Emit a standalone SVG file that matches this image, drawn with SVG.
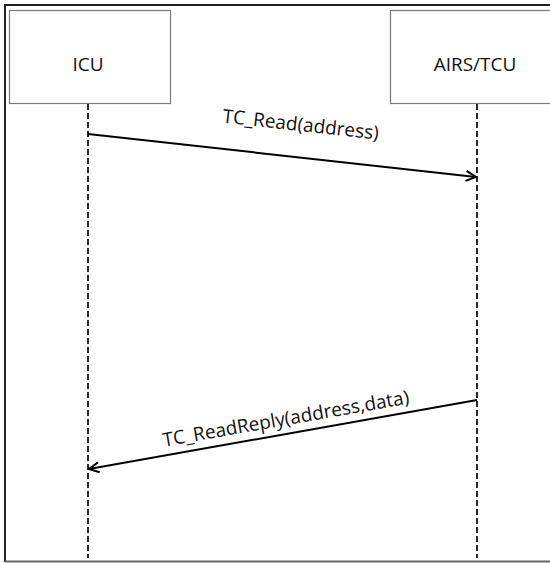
<svg xmlns="http://www.w3.org/2000/svg" width="550" height="563" viewBox="0 0 550 563">
  <style>
    .frame { fill: none; stroke: #222; stroke-width: 2; }
    .obj { fill: #fff; stroke: #7a7a7a; stroke-width: 1.2; }
    .life { stroke: #111; stroke-width: 1.8; stroke-dasharray: 6 3; fill: none; }
    .msg { stroke: #000; stroke-width: 2; fill: none; marker-end: url(#arrow); }
    text { font-family: "Open Sans", "Liberation Sans", sans-serif; font-size: 19px; fill: #111; }
  </style>
  <defs>
    <marker id="arrow" viewBox="0 0 12 12" refX="11" refY="6" markerWidth="12" markerHeight="12" markerUnits="userSpaceOnUse" orient="auto">
      <path d="M1,1 L11,6 L1,11" fill="none" stroke="#000" stroke-width="2"/>
    </marker>
  </defs>
  <rect width="550" height="563" fill="#fff"/>
  <!-- outer frame -->
  <path d="M5,562 L5,5 L550,5" class="frame"/>
  <line x1="5" y1="561.5" x2="550" y2="561.5" stroke="#666" stroke-width="2"/>

  <g id="icu">
    <rect class="obj" x="9.5" y="10.5" width="161" height="93"/>
    <text x="88" y="71" text-anchor="middle">ICU</text>
    <line class="life" x1="88" y1="104" x2="88" y2="558"/>
  </g>
  <g id="airs-tcu">
    <rect class="obj" x="390.5" y="10.5" width="170" height="93"/>
    <text x="475" y="71" text-anchor="middle">AIRS/TCU</text>
    <line class="life" x1="477" y1="104" x2="477" y2="558"/>
  </g>

  <g id="connectors">
    <line class="msg" x1="88" y1="134" x2="476" y2="177"/>
    <text transform="translate(300,131) rotate(6.3)" text-anchor="middle">TC_Read(address)</text>
    <line class="msg" x1="477" y1="400" x2="89" y2="469"/>
    <text transform="translate(287,425) rotate(-10)" text-anchor="middle">TC_ReadReply(address,data)</text>
  </g>
</svg>
